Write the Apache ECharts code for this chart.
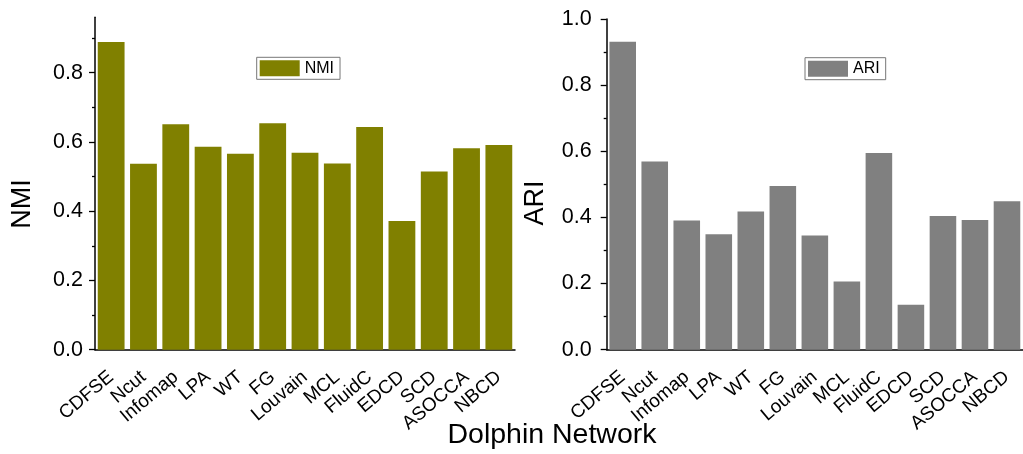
<!DOCTYPE html>
<html><head><meta charset="utf-8">
<script src="https://cdn.jsdelivr.net/npm/echarts@6/dist/echarts.min.js"></script>
<style>html,body{margin:0;padding:0;background:#fff}#c{width:1023px;height:454px}</style>
</head><body><div id="c"></div>
<script>
const categories = ['CDFSE','Ncut','Infomap','LPA','WT','FG','Louvain','MCL','FluidC','EDCD','SCD','ASOCCA','NBCD'];
const nmiValues = [0.889,0.537,0.651,0.586,0.566,0.654,0.569,0.538,0.643,0.372,0.515,0.582,0.591];
const ariValues = [0.931,0.569,0.391,0.349,0.418,0.495,0.345,0.206,0.595,0.136,0.404,0.392,0.449];
const nmiTicks = [0,0.2,0.4,0.6,0.8];
const nmiMinorTicks = [0.1,0.3,0.5,0.7,0.9];
const ariTicks = [0,0.2,0.4,0.6,0.8,1.0];
const ariMinorTicks = [0.1,0.3,0.5,0.7,0.9];
const xTitle = 'Dolphin Network';

const FONT = 'Arial, "Liberation Sans", sans-serif';
const chart = echarts.init(document.getElementById('c'));

function xAxes(gridIndex) {
  return [
    { type: 'category', gridIndex, data: categories, position: 'bottom',
      axisLine: { lineStyle: { color: '#000', width: 1.5 } },
      axisTick: { alignWithLabel: true, length: 6, lineStyle: { color: '#000', width: 1.3 } },
      axisLabel: { rotate: 40, margin: 25, fontSize: 19, fontFamily: FONT, color: '#000', interval: 0 },
      splitLine: { show: false } },
    { type: 'category', gridIndex, data: categories, position: 'bottom',
      axisLine: { show: false },
      axisTick: { alignWithLabel: false, length: 3, lineStyle: { color: '#000', width: 1.3 } },
      axisLabel: { show: false }, splitLine: { show: false } }
  ];
}
function yAxes(gridIndex, max, ticks, minor, margin) {
  return [
    { type: 'value', gridIndex, min: 0, max, interval: 0.2, position: 'left',
      axisLine: { show: true, lineStyle: { color: '#000', width: 1.5 } },
      axisTick: { show: true, length: 6, customValues: ticks, lineStyle: { color: '#000', width: 1.3 } },
      axisLabel: { customValues: ticks, margin, fontSize: 21.5, fontFamily: FONT, color: '#000',
                   formatter: v => v.toFixed(1) },
      splitLine: { show: false } },
    { type: 'value', gridIndex, min: 0, max, interval: 0.2, position: 'left', offset: 0,
      axisLine: { show: false },
      axisTick: { show: true, length: 3, customValues: minor, lineStyle: { color: '#000', width: 1.3 } },
      axisLabel: { show: false }, splitLine: { show: false } }
  ];
}

const legendCommon = {
  orient: 'horizontal', itemWidth: 40, itemHeight: 16, itemGap: 0,
  borderColor: '#777', borderWidth: 1, padding: [3, 6, 3, 3],
  textStyle: { fontSize: 16, fontFamily: FONT, color: '#000' },
  icon: 'rect'
};

chart.setOption({
  animation: false,
  backgroundColor: '#fff',
  grid: [
    { left: 95, top: 17.3, width: 420, height: 332.4 },
    { left: 606.7, top: 19, width: 420, height: 330.7 }
  ],
  xAxis: [...xAxes(0), ...xAxes(1)],
  yAxis: [...yAxes(0, 0.96, nmiTicks, nmiMinorTicks, 12), ...yAxes(1, 1.0, ariTicks, ariMinorTicks, 15)],
  legend: [
    Object.assign({}, legendCommon, { left: 256.7, top: 57.3, data: ['NMI'] }),
    Object.assign({}, legendCommon, { left: 805, top: 57.7, data: ['ARI'] })
  ],
  series: [
    { name: 'NMI', type: 'bar', xAxisIndex: 0, yAxisIndex: 0, data: nmiValues,
      barCategoryGap: '17%', itemStyle: { color: '#808000' } },
    { name: 'ARI', type: 'bar', xAxisIndex: 2, yAxisIndex: 2, data: ariValues,
      barCategoryGap: '17%', itemStyle: { color: '#808080' } }
  ],
  graphic: [
    { type: 'text', x: 23, y: 204, rotation: Math.PI / 2,
      style: { text: 'NMI', font: '27px ' + FONT, fill: '#000', align: 'center', verticalAlign: 'middle' } },
    { type: 'text', x: 536, y: 203, rotation: Math.PI / 2,
      style: { text: 'ARI', font: '27px ' + FONT, fill: '#000', align: 'center', verticalAlign: 'middle' } },
    { type: 'text', x: 552, y: 435,
      style: { text: xTitle, font: '28.5px ' + FONT, fill: '#000', align: 'center', verticalAlign: 'middle' } }
  ]
});
</script></body></html>
